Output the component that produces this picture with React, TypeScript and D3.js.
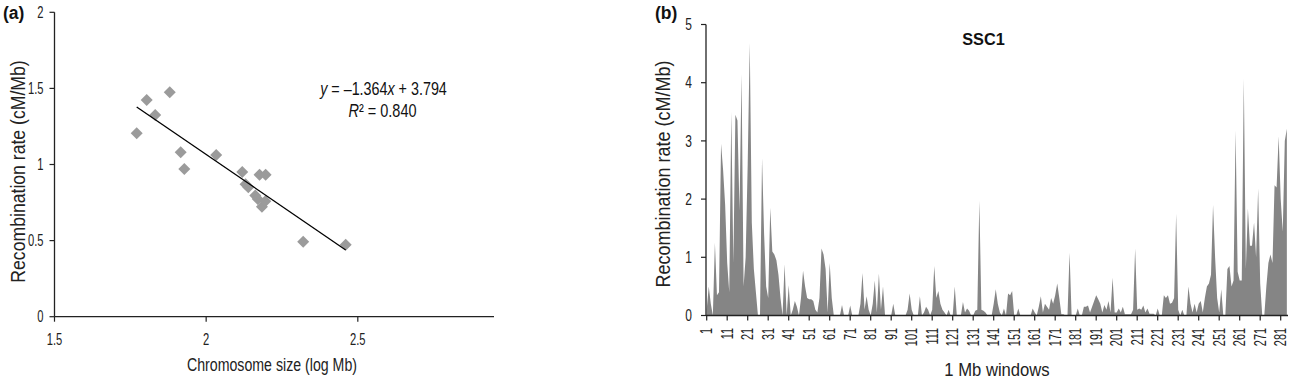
import React from 'react';
import * as d3 from 'd3';

// Panel (a): chromosome size vs recombination rate
const chromSizeLog = [1.771, 1.804, 1.832, 1.88, 1.916, 1.928, 2.033, 2.119, 2.13, 2.139, 2.162, 2.17, 2.176, 2.196, 2.184, 2.195, 2.32, 2.46];
const recombRate = [1.205, 1.424, 1.325, 1.474, 1.08, 0.97, 1.062, 0.951, 0.87, 0.85, 0.797, 0.773, 0.933, 0.933, 0.723, 0.758, 0.493, 0.473];
const fitSlope = -1.364;
const fitIntercept = 3.794;
const aXTicks = [1.5, 2, 2.5];
const aYTicks = [0, 0.5, 1, 1.5, 2];

// Panel (b): SSC1 recombination rate per 1 Mb window
const ssc1Rates = [
  0.1, 0.5, 0.2, 0, 1.25, 0.35, 0.4, 2.95, 2.5, 1.9,
  0.9, 0.4, 3.5, 0.9, 3.45, 3.35, 1.8, 4.15, 0.5, 1.0,
  2.6, 4.68, 1.6, 0.8, 0.4, 0, 0, 2.7, 1.4, 0.5,
  0.3, 1.85, 1.1, 1.05, 0.95, 0.7, 0.3, 0, 0.88, 0,
  0.52, 0, 0.1, 0.25, 0.15, 0, 0.3, 0.77, 0.5, 0.3,
  0.28, 0.28, 0.25, 0.1, 0.05, 0.3, 1.15, 1.05, 0.8, 0.05,
  0.9, 0.3, 0, 0, 0, 0, 0.18, 0, 0, 0,
  0.17, 0, 0, 0, 0, 0.2, 0.73, 0.1, 0.33, 0.1,
  0, 0.2, 0.6, 0.05, 0.72, 0.1, 0.5, 0, 0, 0,
  0, 0.2, 0, 0, 0, 0, 0, 0, 0.1, 0.38,
  0.1, 0, 0, 0, 0.33, 0, 0.05, 0.15, 0.1, 0,
  0.1, 0.85, 0.3, 0.42, 0.2, 0.1, 0.05, 0, 0.1, 0,
  0, 0.5, 0, 0, 0, 0.23, 0.05, 0.12, 0.08, 0,
  0, 0.08, 0.1, 1.97, 0.1, 0.08, 0.05, 0, 0, 0,
  0.2, 0.45, 0.2, 0.05, 0, 0.12, 0, 0.38, 0.35, 0.42,
  0, 0, 0.12, 0, 0, 0, 0, 0, 0, 0.12,
  0.05, 0, 0.15, 0.33, 0.05, 0.2, 0.15, 0.1, 0.3, 0.2,
  0.35, 0.55, 0.3, 0.02, 0.02, 0, 0, 1.08, 0, 0,
  0, 0.12, 0, 0, 0.15, 0.15, 0.17, 0.05, 0.15, 0.25,
  0.35, 0.28, 0.2, 0.05, 0.18, 0.1, 0.25, 0.05, 0.65, 0.05,
  0.05, 0.12, 0.05, 0.15, 0.02, 0.02, 0.02, 0.02, 0.1, 1.15,
  0.1, 0.12, 0.1, 0.17, 0.05, 0.12, 0.03, 0.03, 0.03, 0,
  0.12, 0, 0, 0.35, 0.3, 0.35, 0.2, 0.22, 0.3, 1.75,
  0.1, 0, 0.1, 0, 0, 0.5, 0.2, 0.05, 0.2, 0.05,
  0.2, 0.25, 0.05, 0.3, 0.5, 0.55, 0.7, 1.9, 1.0, 0.3,
  0.05, 0.45, 0, 0, 0.8, 0.85, 0.5, 0.6, 3.18, 0.75,
  0.6, 0.6, 4.07, 0.8, 1.84, 1.2, 1.2, 1.6, 1.0, 2.18,
  0.55, 0, 0, 0.5, 0.9, 1.05, 0.9, 2.24, 2.2, 3.08,
  2.0, 1.44, 3.0, 3.21,
];
const bXTicks = [1, 11, 21, 31, 41, 51, 61, 71, 81, 91, 101, 111, 121, 131, 141, 151, 161, 171, 181, 191, 201, 211, 221, 231, 241, 251, 261, 271, 281];
const bYTicks = [0, 1, 2, 3, 4, 5];

const FONT = '"Liberation Sans", Arial, sans-serif';

type NTProps = {
  x: number;
  y: number;
  rotate?: number;
  anchor?: 'start' | 'middle' | 'end';
  size: number;
  sx?: number;
  dy?: string;
  children: React.ReactNode;
  fill?: string;
};

function NT({ x, y, rotate = 0, anchor = 'start', size, sx = 0.82, dy, children, fill = '#222' }: NTProps) {
  return (
    <text
      transform={`translate(${x},${y}) rotate(${rotate}) scale(${sx},1)`}
      textAnchor={anchor}
      fontSize={size}
      dy={dy}
      fill={fill}
    >
      {children}
    </text>
  );
}

export default function App() {
  // Panel a scales
  const ax = d3.scaleLinear().domain([1.5, 2.949]).range([54.5, 494]);
  const ay = d3.scaleLinear().domain([0, 2]).range([316.7, 12.3]);
  const xMin = d3.min(chromSizeLog) as number;
  const xMax = d3.max(chromSizeLog) as number;
  const diamond = d3.symbol().type(d3.symbolSquare).size(72)();

  // Panel b scales
  const n = ssc1Rates.length;
  const bx = d3.scaleLinear().domain([1, n]).range([706.7, 706.7 + (n - 1) * 2.05]);
  const by = d3.scaleLinear().domain([0, 5]).range([315.5, 24.5]);
  const area = d3
    .area<number>()
    .x((_, i) => bx(i + 1))
    .y0(by(0))
    .y1((d) => by(d));

  return (
    <svg
      width={1292}
      height={383}
      style={{ position: 'absolute', left: 0, top: 0, background: '#fff' }}
      fontFamily={FONT}
    >
      <rect x={0} y={0} width={1292} height={383} fill="#fff" />
      {/* ---------- Panel (a) ---------- */}
      <text x={3} y={19} fontWeight="bold" fontSize={17.5} fill="#111">(a)</text>
      {chromSizeLog.map((v, i) => (
        <path
          key={i}
          d={diamond as string}
          transform={`translate(${ax(v)},${ay(recombRate[i])}) rotate(45)`}
          fill="#9b9b9b"
        />
      ))}
      <line
        x1={ax(xMin)}
        y1={ay(fitSlope * xMin + fitIntercept)}
        x2={ax(xMax)}
        y2={ay(fitSlope * xMax + fitIntercept)}
        stroke="#000"
        strokeWidth={1.3}
      />
      <line x1={ax(1.5)} y1={ay(0)} x2={494} y2={ay(0)} stroke="#222" strokeWidth={1.3} />
      <line x1={ax(1.5)} y1={ay(0)} x2={ax(1.5)} y2={ay(2)} stroke="#222" strokeWidth={1.3} />
      {aYTicks.map((t) => (
        <g key={t}>
          <line x1={ax(1.5) - 5} x2={ax(1.5)} y1={ay(t)} y2={ay(t)} stroke="#222" strokeWidth={1.2} />
          <NT x={43.5} y={ay(t)} dy="0.36em" anchor="end" size={16} sx={0.7}>{t}</NT>
        </g>
      ))}
      {aXTicks.map((t) => (
        <g key={t}>
          <line x1={ax(t)} x2={ax(t)} y1={ay(0)} y2={ay(0) + 5} stroke="#222" strokeWidth={1.2} />
          <NT x={ax(t)} y={345} anchor="middle" size={16} sx={0.7}>{t}</NT>
        </g>
      ))}
      <NT x={272} y={371} anchor="middle" size={18.5} sx={0.766}>Chromosome size (log Mb)</NT>
      <NT x={25} y={171.5} rotate={-90} anchor="middle" size={21} sx={0.84}>Recombination rate (cM/Mb)</NT>
      <NT x={383.5} y={94.5} anchor="middle" size={17.7} sx={0.81} fill="#111">
        <tspan fontStyle="italic">y</tspan> = –1.364<tspan fontStyle="italic">x</tspan> + 3.794
      </NT>
      <NT x={382.5} y={116.7} anchor="middle" size={17.7} sx={0.82} fill="#111">
        <tspan fontStyle="italic">R</tspan>² = 0.840
      </NT>

      {/* ---------- Panel (b) ---------- */}
      <text x={655} y={19} fontWeight="bold" fontSize={17.5} fill="#111">(b)</text>
      <path d={area(ssc1Rates) as string} fill="#858585" />
      <line x1={706} y1={by(0)} x2={1288} y2={by(0)} stroke="#222" strokeWidth={1.3} />
      <line x1={706} y1={by(0)} x2={706} y2={by(5)} stroke="#222" strokeWidth={1.3} />
      {bYTicks.map((t) => (
        <g key={t}>
          <line x1={701} x2={706} y1={by(t)} y2={by(t)} stroke="#222" strokeWidth={1.2} />
          <NT x={692} y={by(t)} dy="0.36em" anchor="end" size={16} sx={0.75}>{t}</NT>
        </g>
      ))}
      {bXTicks.map((t) => (
        <g key={t}>
          <line x1={bx(t)} x2={bx(t)} y1={by(0)} y2={by(0) + 5} stroke="#222" strokeWidth={1.2} />
          <NT x={bx(t)} y={328} rotate={-90} dy="0.36em" anchor="end" size={16} sx={0.68}>{t}</NT>
        </g>
      ))}
      <NT x={997} y={376} anchor="middle" size={18.5} sx={0.9}>1 Mb windows</NT>
      <NT x={670} y={174} rotate={-90} anchor="middle" size={21} sx={0.857}>Recombination rate (cM/Mb)</NT>
      <text x={983.5} y={45} textAnchor="middle" fontWeight="bold" fontSize={16.3} fill="#111">SSC1</text>
    </svg>
  );
}
